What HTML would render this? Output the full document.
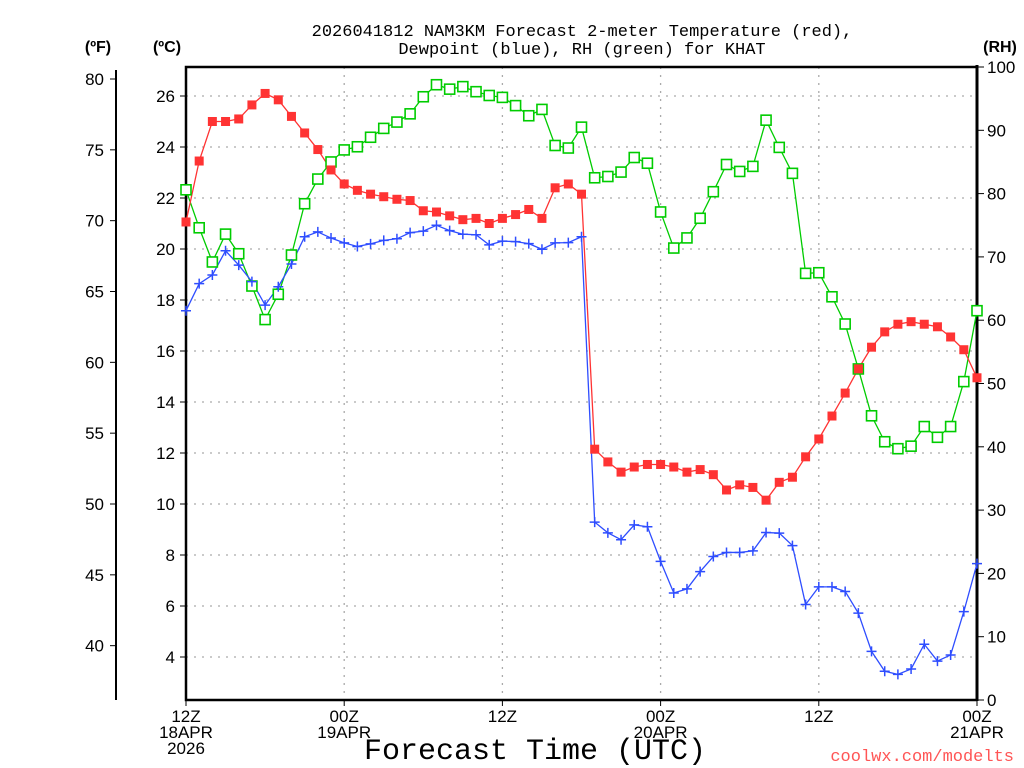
<!DOCTYPE html>
<html><head><meta charset="utf-8"><style>
html,body{margin:0;padding:0;background:#fff;width:1024px;height:768px;overflow:hidden}
svg{display:block;font-family:"Liberation Sans",sans-serif}
</style></head><body>
<svg id="chart" width="1024" height="768">
<text x="582" y="36" text-anchor="middle" font-size="17" font-family="Liberation Mono, monospace" fill="#000">2026041812 NAM3KM Forecast 2-meter Temperature (red),</text>
<text x="582" y="54" text-anchor="middle" font-size="17" font-family="Liberation Mono, monospace" fill="#000">Dewpoint (blue), RH (green) for KHAT</text>
<text x="98" y="52" text-anchor="middle" font-size="16" font-weight="bold">(ºF)</text>
<text x="167" y="52" text-anchor="middle" font-size="16" font-weight="bold">(ºC)</text>
<text x="1000" y="52" text-anchor="middle" font-size="16" font-weight="bold">(RH)</text>
<text x="535" y="759" text-anchor="middle" font-size="30" font-family="Liberation Mono, monospace">Forecast Time (UTC)</text>
<text x="1014" y="761" text-anchor="end" font-size="17" font-family="Liberation Mono, monospace" fill="#f55">coolwx.com/modelts</text>
<g id="grid"></g><g id="axes"></g><g id="series"></g>
</svg>
<script>
const hours = Array.from({length:61},(_,i)=>i);
const tempC = [21.06,23.45,25.0,25.0,25.1,25.65,26.1,25.85,25.2,24.55,23.9,23.1,22.55,22.3,22.15,22.05,21.95,21.9,21.5,21.45,21.3,21.15,21.2,21.0,21.2,21.35,21.55,21.2,22.4,22.55,22.15,
12.15,11.65,11.25,11.45,11.55,11.55,11.45,11.25,11.35,11.15,10.55,10.75,10.65,10.15,10.85,11.05,11.85,12.55,13.45,14.35,15.3,16.15,16.75,17.05,17.15,17.05,16.95,16.55,16.05,14.95];
const dewC = [17.58,18.64,18.98,19.93,19.37,18.72,17.8,18.52,19.41,20.48,20.67,20.43,20.24,20.1,20.2,20.34,20.4,20.64,20.7,20.93,20.72,20.58,20.56,20.16,20.31,20.29,20.21,19.99,20.24,20.25,20.48,
9.29,8.87,8.6,9.18,9.11,7.75,6.51,6.67,7.35,7.94,8.1,8.1,8.16,8.88,8.86,8.37,6.06,6.75,6.75,6.57,5.72,4.22,3.44,3.32,3.53,4.5,3.84,4.08,5.78,7.66];
const rh = [80.6,74.6,69.2,73.6,70.5,65.4,60.1,64.1,70.3,78.4,82.3,85.0,86.9,87.4,88.9,90.3,91.3,92.6,95.3,97.2,96.5,96.9,96.1,95.5,95.2,93.9,92.3,93.3,87.6,87.2,90.5,
82.5,82.7,83.4,85.7,84.8,77.1,71.4,73.0,76.1,80.3,84.6,83.5,84.3,91.6,87.3,83.2,67.4,67.5,63.7,59.4,52.3,44.9,40.8,39.7,40.1,43.2,41.5,43.2,50.3,61.5];
const cTicks = [4,6,8,10,12,14,16,18,20,22,24,26];
const fTicks = [40,45,50,55,60,65,70,75,80];
const rhTicks = [0,10,20,30,40,50,60,70,80,90,100];
const xTickHours = [0,12,24,36,48,60];
const xTickLabels = [["12Z","18APR","2026"],["00Z","19APR"],["12Z"],["00Z","20APR"],["12Z"],["00Z","21APR"]];

const L=186,R=977,T=67,B=700;
const xs=h=>L+(R-L)*h/60;
const yC=c=>96+(26-c)*(657-96)/22;
const yF=f=>yC((f-32)*5/9);
const yRH=r=>B-(B-T)*r/100;
const NS="http://www.w3.org/2000/svg";
function mk(tag,attrs,parent,txt){const e=document.createElementNS(NS,tag);for(const k in attrs)e.setAttribute(k,attrs[k]);if(txt!==undefined)e.textContent=txt;parent.appendChild(e);return e;}
const grid=document.getElementById('grid'),axes=document.getElementById('axes'),ser=document.getElementById('series');

cTicks.forEach(c=>{const y=yC(c);
 let g=mk('line',{x1:L,x2:R,y1:y,y2:y,stroke:'#aaa','stroke-width':1.3,'stroke-dasharray':'2 6'},grid);
 
 
 let t=mk('line',{x1:L-6,x2:L,y1:y,y2:y,stroke:'#000'},axes);
 
 
 let l=mk('text',{x:L-11,y:y+6,'text-anchor':'end','font-size':17},axes,String(c));
 
 
});
fTicks.forEach(f=>{const y=yF(f);
 let t=mk('line',{x1:110,x2:117,y1:y,y2:y,stroke:'#000'},axes);
 
 
 let l=mk('text',{x:104,y:y+6,'text-anchor':'end','font-size':17},axes,String(f));
 
 
});
rhTicks.forEach(r=>{const y=yRH(r);
 let t=mk('line',{x1:R,x2:R+7,y1:y,y2:y,stroke:'#000'},axes);
 
 
 let l=mk('text',{x:R+10,y:y+6,'font-size':17},axes,String(r));
 
 
});
xTickHours.forEach((h,i)=>{const x=xs(h);
 if(h>0&&h<60){let g=mk('line',{x1:x,x2:x,y1:T,y2:B,stroke:'#aaa','stroke-width':1.3,'stroke-dasharray':'2 6'},grid);
 
 }
 let t=mk('line',{x1:x,x2:x,y1:B,y2:B+6,stroke:'#000'},axes);
 
 
 xTickLabels[i].forEach((s,j)=>{let l=mk('text',{x:x,y:722+j*16,'text-anchor':'middle','font-size':17},axes,s);
 
 });
});
let f=mk('line',{x1:116,x2:116,y1:70,y2:B,stroke:'#000','stroke-width':2},axes);


let fr=mk('path',{d:`M${R},${T}H${L}V${B}H${R}`,fill:'none',stroke:'#000','stroke-width':2.5},axes);


let ra=mk('line',{x1:R,x2:R,y1:T-2,y2:B+1,stroke:'#000','stroke-width':3},axes);



function line(vals,yf,color,name){
 let p=mk('polyline',{points:vals.map((v,i)=>xs(hours[i])+','+yf(v)).join(' '),fill:'none',stroke:color,'stroke-width':1.3},ser);
 
 
}
line(rh,yRH,'#0c0','rh-line');
line(dewC,yC,'#2e4dff','dewpoint-line');
line(tempC,yC,'#f33','temperature-line');
rh.forEach((v,i)=>{let m=mk('rect',{x:xs(hours[i])-5,y:yRH(v)-5,width:10,height:10,fill:'#fff',stroke:'#0c0','stroke-width':1.6},ser);
 
 });
dewC.forEach((v,i)=>{const x=xs(hours[i]),y=yC(v);
 let m=mk('path',{d:`M${x-5},${y}H${x+5}M${x},${y-5}V${y+5}`,stroke:'#2e4dff','stroke-width':1.5},ser);
 
 });
tempC.forEach((v,i)=>{let m=mk('rect',{x:xs(hours[i])-4.5,y:yC(v)-4.5,width:9,height:9,fill:'#f33'},ser);
 
 });
</script>
</body></html>
